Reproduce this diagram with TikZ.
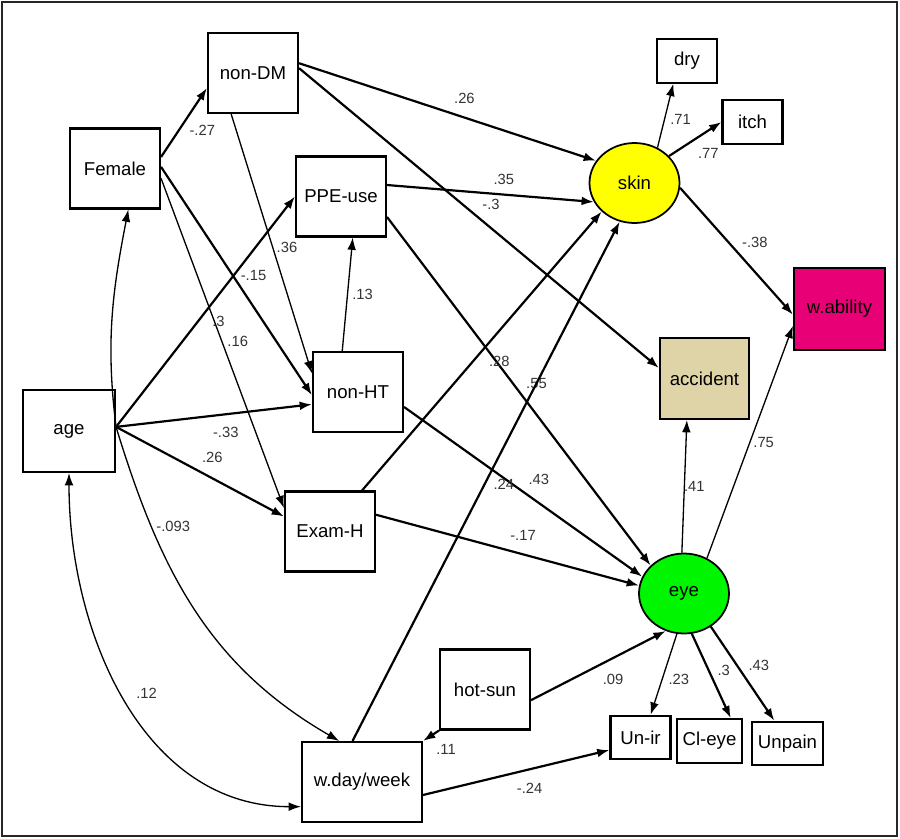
\documentclass[tikz,border=0pt]{standalone}
\usepackage{fontspec}
\setmainfont{Liberation Sans}
\usetikzlibrary{arrows.meta,shapes.geometric}
\definecolor{skinyellow}{RGB}{255,255,0}
\definecolor{eyegreen}{RGB}{0,245,0}
\definecolor{abilitypink}{RGB}{232,0,118}
\definecolor{accidenttan}{RGB}{222,212,168}

\begin{document}
\begin{tikzpicture}[
  x=0.02cm, y=0.02cm,
  ->, >={Latex[length=7pt,width=5pt]},
  obs/.style={rectangle, draw, line width=1.2pt, minimum width=1.8cm, minimum height=1.6cm, font=\fontsize{10.6}{12}\selectfont},
  ind/.style={obs, minimum width=1.2cm, minimum height=0.87cm},
  latent/.style={ellipse, draw, line width=1pt, minimum width=1.8cm, minimum height=1.6cm, font=\fontsize{10.6}{12}\selectfont},
  heavy/.style={line width=1.25pt},
  light/.style={line width=0.75pt},
  lbl/.style={font=\fontsize{8.4}{9}\selectfont, text=black!80, inner sep=0pt}
]
  \useasboundingbox (0,0) rectangle (900,-839);
  \draw[-, line width=1.5pt, black!85] (2,-2) rectangle (897,-836);

  % exogenous and mediators
  \node[obs] (nonDM) at (253,-73) {non-DM};
  \node[obs] (Female) at (115,-168.5) {Female};
  \node[obs] (PPE) at (341,-196.5) {PPE-use};
  \node[obs] (nonHT) at (358,-392) {non-HT};
  \node[obs, minimum width=1.84cm, minimum height=1.64cm] (age) at (69,-431) {age};
  \node[obs] (ExamH) at (330,-531.5) {Exam-H};
  \node[obs, minimum width=2.4cm] (wday) at (362,-782) {w.day/week};
  \node[obs] (hotsun) at (485,-689.5) {hot-sun};

  % latent variables and indicators
  \node[latent, fill=skinyellow] (skin) at (634.5,-183) {skin};
  \node[latent, fill=eyegreen] (eye) at (684,-593.5) {eye};
  \node[ind] (dry) at (687,-61) {dry};
  \node[ind] (itch) at (752.5,-122) {itch};
  \node[ind] (Unir) at (640.5,-737.5) {Un-ir};
  \node[ind] (Cleye) at (709.5,-741) {Cl-eye};
  \node[ind] (Unpain) at (787.5,-743.5) {Unpain};

  % outcomes
  \node[obs, fill=abilitypink, minimum width=1.82cm, minimum height=1.64cm] (wability) at (839.5,-309) {w.ability};
  \node[obs, fill=accidenttan, minimum width=1.78cm, minimum height=1.62cm] (accident) at (704.5,-378.5) {accident};

  \path (Female.14) edge[heavy] node[lbl, pos=.55, shift={(16,-11)}] {-.27} (nonDM.198)
        (Female.2) edge[heavy] node[lbl, pos=.52, shift={(14,10)}] {-.15} (nonHT.184)
        (Female.-12) edge[light] node[lbl, pos=.51, shift={(14,5)}] {.16} (ExamH.153)
        (nonDM.242) edge[light] node[lbl, pos=.53, shift={(13,4)}] {.36} (nonHT.158)
        (nonDM.12) edge[heavy] node[lbl, pos=.54, shift={(5,17)}] {.26} (skin.150)
        (nonDM.6) edge[heavy] node[lbl, pos=.5, shift={(12,14)}] {-.3} (accident.167)
        (age.5) edge[heavy] node[lbl, pos=.5, shift={(13,-10)}] {.3} (PPE.west)
        (age.5) edge[heavy] node[lbl, pos=.55, shift={(2,-18)}] {-.33} (nonHT.195)
        (age.5) edge[heavy] node[lbl, pos=.52, shift={(9,16)}] {.26} (ExamH.162)
        (nonHT.111) edge[light] node[lbl, pos=.51, shift={(15,-1)}] {.13} (PPE.286)
        (PPE.14) edge[heavy] node[lbl, pos=.56, shift={(1,15)}] {.35} (skin.205)
        (PPE.-24) edge[heavy] node[lbl, pos=.51, shift={(15,11)}] {.55} (eye.140)
        (nonHT.-18) edge[heavy] node[lbl, pos=.52, shift={(11,16)}] {.43} (eye.158)
        (ExamH.52) edge[heavy] node[lbl, pos=.51, shift={(15,-13)}] {.28} (skin.221)
        (ExamH.20) edge[heavy] node[lbl, pos=.54, shift={(5,18)}] {-.17} (eye.170)
        (wday.103) edge[heavy] node[lbl, pos=.51, shift={(15,-8)}] {.24} (skin.249)
        (wday.348) edge[heavy] node[lbl, pos=.55, shift={(4,-18)}] {-.24} (Unir.202)
        (hotsun.347) edge[heavy] node[lbl, pos=.55, shift={(8,-17)}] {.09} (eye.244)
        (hotsun.south west) edge[heavy] node[lbl, pos=1, shift={(23,-8)}] {.11} (wday.north east);

  % covariances
  \path (age.5) edge[light, out=97, in=-101] (Female.288)
        (age.5) edge[light, out=-73, in=150] node[lbl, pos=.25, shift={(22,0)}] {-.093} (wday.119)
        (age.south) edge[light, <->, out=-90, in=180] node[lbl, pos=.5, shift={(21,6)}] {.12} (wday.202);

  % measurement and outcome paths
  \path (skin.57) edge[light] node[lbl, pos=.51, shift={(15,-4)}] {.71} (dry.239)
        (skin.38) edge[heavy] node[lbl, pos=.56, shift={(10,-16)}] {.77} (itch.west)
        (skin.354) edge[heavy] node[lbl, pos=.53, shift={(15,13)}] {-.38} (wability.187)
        (eye.93) edge[light] node[lbl, pos=.5, shift={(10,0)}] {.41} (accident.247)
        (eye.57) edge[light] node[lbl, pos=.52, shift={(12,-5)}] {.75} (wability.200)
        (eye.260) edge[light] node[lbl, pos=.5, shift={(15,-5)}] {.23} (Unir.66)
        (eye.281) edge[heavy] node[lbl, pos=.51, shift={(12,6)}] {.3} (Cleye.47)
        (eye.309) edge[heavy] node[lbl, pos=.52, shift={(15,10)}] {.43} (Unpain.120);
\end{tikzpicture}
\end{document}
